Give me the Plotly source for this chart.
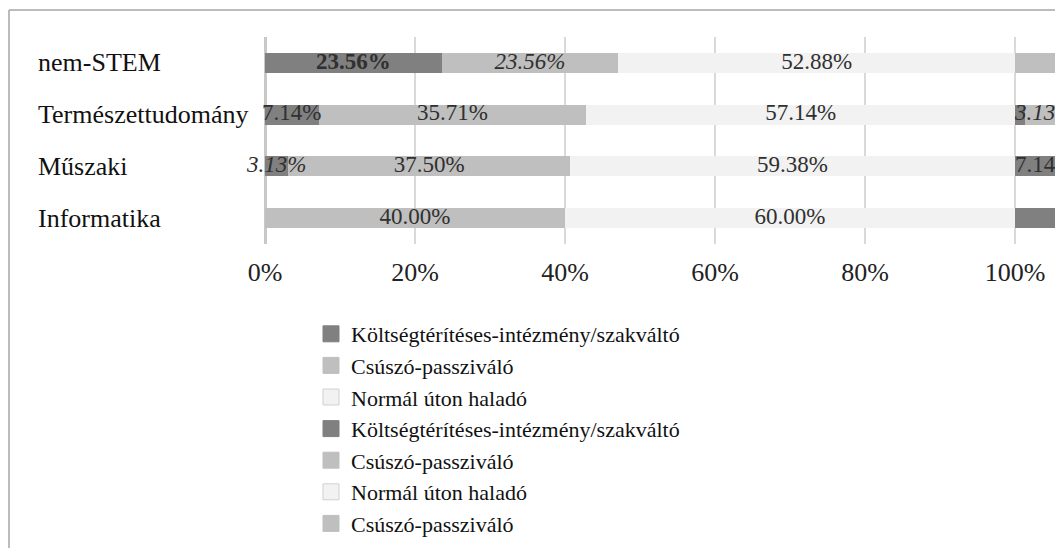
import plotly.graph_objects as go

# ---- data ----
categories = ["nem-STEM", "Természettudomány", "Műszaki", "Informatika"]

koltseg_1 = [23.56, 7.14, 3.13, 0.0]
csuszo_1 = [23.56, 35.71, 37.50, 40.00]
normal_1 = [52.88, 57.14, 59.38, 60.00]

koltseg_2 = [0.0, 1.4, 7.14, 19.0]
csuszo_2 = [40.0, 38.6, 35.71, 25.0]
normal_2 = [60.0, 60.0, 57.15, 56.0]
csuszo_3 = [0.0, 0.0, 0.0, 0.0]

lab_k1 = ["<b>23.56%</b>", "7.14%", "<i>3.13%</i>", ""]
lab_c1 = ["<i>23.56%</i>", "35.71%", "37.50%", "40.00%"]
lab_n1 = ["52.88%", "57.14%", "59.38%", "60.00%"]
lab_k2 = ["", "<i>3.13%</i>", "7.14%", ""]
lab_empty = ["", "", "", ""]

tick_vals = [0, 20, 40, 60, 80, 100]
tick_text = ["0%", "20%", "40%", "60%", "80%", "100%"]

name_k = "Költségtérítéses-intézmény/szakváltó"
name_c = "Csúszó-passziváló"
name_n = "Normál úton haladó"

DARK = "#808080"
MID = "#bfbfbf"
LIGHT = "#f2f2f2"
FONT = "Liberation Serif"
TXT = "#303030"

# (name, values, colour, labels, label anchor)
series = [
    (name_k, koltseg_1, DARK, lab_k1, "center"),
    (name_c, csuszo_1, MID, lab_c1, "center"),
    (name_n, normal_1, LIGHT, lab_n1, "center"),
    (name_k, koltseg_2, DARK, lab_k2, "start"),
    (name_c, csuszo_2, MID, lab_empty, "center"),
    (name_n, normal_2, LIGHT, lab_empty, "center"),
    (name_c, csuszo_3, MID, lab_empty, "center"),
]

fig = go.Figure()
base = [0.0] * len(categories)
label_traces = []
for i, (name, vals, col, labs, anchor) in enumerate(series):
    grp = f"g{i}"
    fig.add_trace(go.Bar(
        y=categories, x=vals, name=name, orientation="h",
        marker=dict(color=col, line=dict(width=0)),
        showlegend=False, legendgroup=grp, hoverinfo="skip",
    ))
    # legend entry (larger square symbol, as in the original)
    fig.add_trace(go.Scatter(
        x=[None], y=[None], mode="markers", name=name, legendgroup=grp,
        marker=dict(symbol="square", size=16, color=col,
                    line=dict(color="#d0d0d0" if col == LIGHT else col, width=1)),
        showlegend=True, hoverinfo="skip",
    ))
    xs, ys, ts = [], [], []
    for j, c in enumerate(categories):
        if labs[j]:
            xs.append(base[j] + (vals[j] / 2 if anchor == "center" else 0.0))
            ys.append(c)
            ts.append(labs[j])
    if xs:
        label_traces.append(go.Scatter(
            x=xs, y=ys, text=ts, mode="text",
            textposition="middle center" if anchor == "center" else "middle right",
            textfont=dict(family=FONT, size=23, color=TXT),
            showlegend=False, hoverinfo="skip", cliponaxis=False,
        ))
    base = [b + v for b, v in zip(base, vals)]

for t in label_traces:
    fig.add_trace(t)

# figure is offset by the 8px page margin: figure coords = page coords - 8
W, H = 1055, 540
L, T = 257, 29
PLOT_BOTTOM = 236
plot_w = W - L
plot_h = PLOT_BOTTOM - T

annotations = []
for c in categories:
    annotations.append(dict(
        x=(28 - L) / plot_w, xref="paper", y=c, yref="y",
        text=c, showarrow=False, xanchor="left", yanchor="middle",
        font=dict(family=FONT, size=26, color="#111111"),
    ))

top_y = (PLOT_BOTTOM - 2) / plot_h
left_x = (1 - L) / plot_w
shapes = [
    dict(type="line", xref="paper", yref="paper", x0=left_x, x1=1.2, y0=top_y, y1=top_y,
         line=dict(color="#a6a6a6", width=1.5)),
    dict(type="line", xref="paper", yref="paper", x0=left_x, x1=left_x, y0=top_y, y1=-1.8,
         line=dict(color="#a6a6a6", width=1.5)),
]

fig.update_layout(
    width=W, height=H,
    margin=dict(l=L, r=0, t=T, b=H - PLOT_BOTTOM, pad=0),
    paper_bgcolor="white", plot_bgcolor="white",
    barmode="stack", bargap=0.61,
    showlegend=True,
    legend=dict(
        orientation="v", traceorder="normal",
        x=(303 - L) / plot_w, xanchor="left",
        y=(PLOT_BOTTOM - 305) / plot_h, yanchor="top",
        font=dict(family=FONT, size=22, color="#111111"),
        bgcolor="rgba(0,0,0,0)", borderwidth=0,
    ),
    xaxis=dict(
        range=[0, plot_w / 7.5], tickvals=tick_vals, ticktext=tick_text,
        showgrid=True, gridcolor="#d9d9d9", gridwidth=1.5,
        zeroline=True, zerolinecolor="#c8c8c8", zerolinewidth=2.5,
        showline=False, ticks="", ticklabelstandoff=10,
        tickfont=dict(family=FONT, size=26, color="#222222"),
    ),
    yaxis=dict(
        categoryorder="array", categoryarray=categories, autorange="reversed",
        showticklabels=False, showgrid=False, zeroline=False, showline=False, ticks="",
    ),
    annotations=annotations,
    shapes=shapes,
    font=dict(family=FONT),
)

fig.write_html("out.html")
